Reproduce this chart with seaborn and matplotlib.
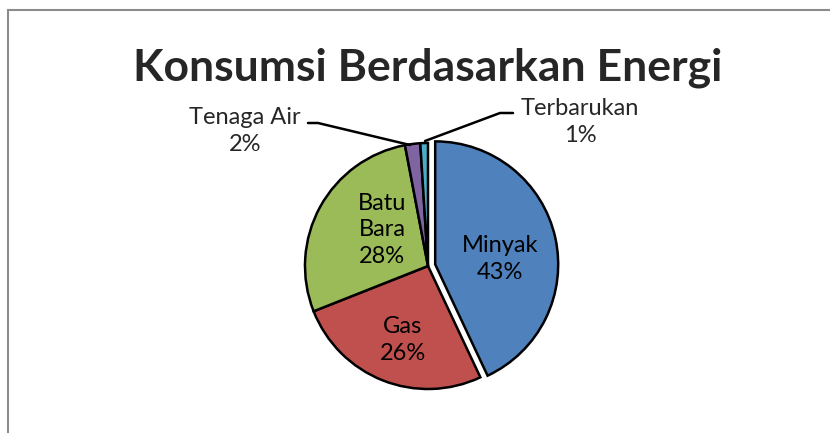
import matplotlib.pyplot as plt
import seaborn as sns
from matplotlib.patches import Rectangle

labels = ["Minyak", "Gas", "Batu\nBara", "Tenaga Air", "Terbarukan"]
values = [43, 26, 28, 2, 1]
explode = [0.06, 0, 0, 0, 0]
colors = ["#4F81BD", "#C0504D", "#9BBB59", "#8064A2", "#4BACC6"]

sns.set_theme(style="white")
plt.rcParams['font.family'] = ['Lato', 'DejaVu Sans']

W, H = 830, 433
fig = plt.figure(figsize=(W / 100, H / 100), dpi=100)

# pie centre and radius in pixels (from top-left)
cx, cy, r = 428, 266, 123
ax = fig.add_axes([(cx - r) / W, (H - cy - r) / H, 2 * r / W, 2 * r / H])

wedges, _ = ax.pie(values, explode=explode, colors=colors, startangle=90,
                   counterclock=False, radius=1,
                   wedgeprops=dict(edgecolor="black", linewidth=1.8))
for w in wedges:
    w.set_clip_on(False)
ax.set_xlim(-1, 1)
ax.set_ylim(-1, 1)
ax.set_aspect("equal")
ax.axis("off")


def px(x, y):
    # pixel position -> data coords of the pie axes
    return (x - cx) / r, (cy - y) / r


fs = 17
# labels inside slices
inside = [(0, 500, 259), (1, 403, 340), (2, 382, 230)]
for i, x, y in inside:
    ax.text(*px(x, y), "{}\n{}%".format(labels[i], values[i]), ha="center",
            va="center", fontsize=fs, linespacing=1.3, color="black")

# outside labels with leader lines
ax.text(*px(245, 131), "{}\n{}%".format(labels[3], values[3]), ha="center",
        va="center", fontsize=fs, linespacing=1.3)
ax.plot(*zip(px(308, 123), px(318, 123), px(410, 145)), color="black",
        lw=1.8, clip_on=False)

ax.text(*px(580, 122), "{}\n{}%".format(labels[4], values[4]), ha="center",
        va="center", fontsize=fs, linespacing=1.3)
ax.plot(*zip(px(513, 113), px(500, 113), px(425, 141)), color="black",
        lw=1.8, clip_on=False)

fig.text(428 / W, 1 - 68 / H, "Konsumsi Berdasarkan Energi", ha="center",
         va="center", fontsize=32, fontweight="bold")

# chart area border (cut off at right/bottom)
fig.patches.append(Rectangle((8 / W, -0.1), 1.2, 1 - 10 / H + 0.1,
                             transform=fig.transFigure, fill=False,
                             edgecolor="#8c8c8c", linewidth=1.5))

fig.savefig("out.png", dpi=100)
